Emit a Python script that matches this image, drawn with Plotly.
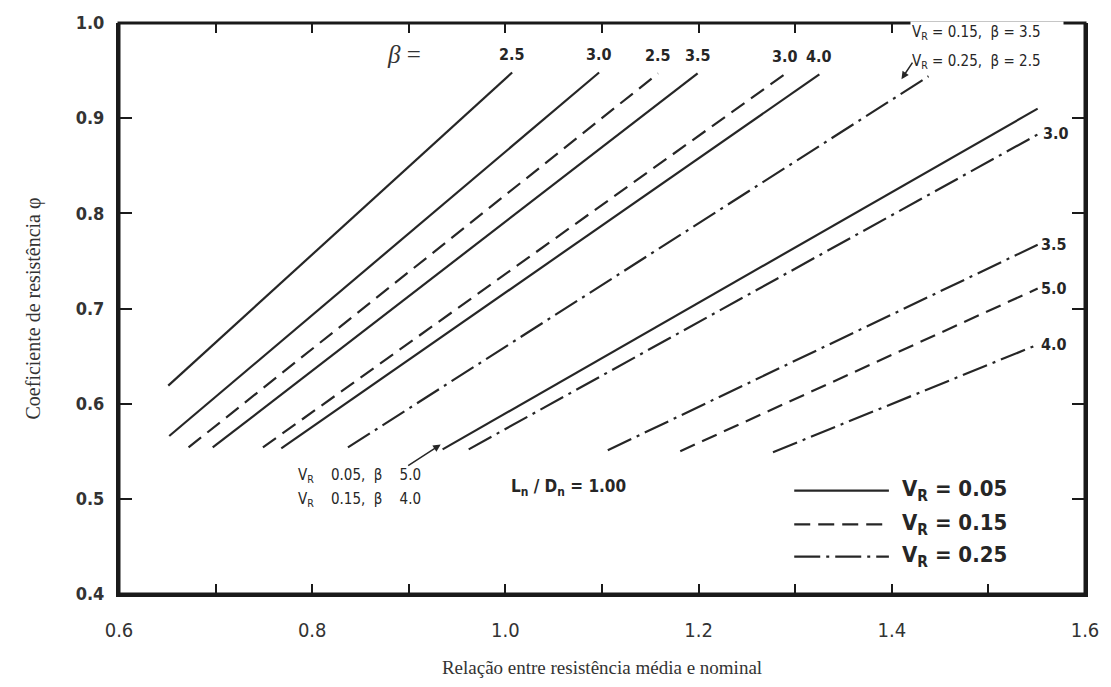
import plotly.graph_objects as go

# ---------------- data ----------------
# V_R = 0.05 (solid)
solid_beta = ["2.5", "3.0", "3.5", "4.0", "5.0"]
solid_x0 = [0.651, 0.652, 0.697, 0.768, 0.935]
solid_y0 = [0.619, 0.566, 0.554, 0.553, 0.552]
solid_x1 = [1.007, 1.097, 1.199, 1.325, 1.551]
solid_y1 = [0.948, 0.948, 0.947, 0.946, 0.910]
solid_lab = ["top", "top", "top", "top", None]

# V_R = 0.15 (dashed)
dashed_beta = ["2.5", "3.0", "5.0"]
dashed_x0 = [0.672, 0.749, 1.181]
dashed_y0 = [0.554, 0.554, 0.550]
dashed_x1 = [1.158, 1.289, 1.551]
dashed_y1 = [0.947, 0.946, 0.721]
dashed_lab = ["top", "top", "right"]

# V_R = 0.25 (dash-dot)
dashdot_beta = ["2.5", "3.0", "3.5", "4.0"]
dashdot_x0 = [0.837, 0.962, 1.106, 1.277]
dashdot_y0 = [0.554, 0.552, 0.551, 0.549]
dashdot_x1 = [1.438, 1.553, 1.551, 1.551]
dashdot_y1 = [0.944, 0.884, 0.767, 0.662]
dashdot_lab = [None, "right", "right", "right"]

x_ticks = [0.6, 0.7, 0.8, 0.9, 1.0, 1.1, 1.2, 1.3, 1.4, 1.5, 1.6]
x_ticktext = ["0.6", "", "0.8", "", "1.0", "", "1.2", "", "1.4", "", "1.6"]
y_ticks = [0.4, 0.5, 0.6, 0.7, 0.8, 0.9, 1.0]
y_ticktext = ["0.4", "0.5", "0.6", "0.7", "0.8", "0.9", "1.0"]

# ---------------- styling ----------------
INK = "#262626"
FRAME = "#1a1a1a"
NARROW = "DejaVu Sans Condensed, Liberation Sans Narrow, Arial Narrow, sans-serif"
SERIF = "Liberation Serif, DejaVu Serif, Times New Roman, serif"

DASH_SOLID = "solid"
DASH_DASHED = "16px,8px"
DASH_DASHDOT = "26px,6px,3px,6px"

fig = go.Figure()
annotations = []


def add_group(name, betas, x0, y0, x1, y1, labs, dash):
    for b, a0, b0, a1, b1, lab in zip(betas, x0, y0, x1, y1, labs):
        fig.add_trace(go.Scatter(
            x=[a0, a1], y=[b0, b1], mode="lines",
            line=dict(color=INK, width=2.2, dash=dash),
            name=f"{name}, β = {b}", showlegend=False, hoverinfo="name",
        ))
        if lab == "top":
            annotations.append(dict(
                x=a1, y=b1, xref="x", yref="y", text=f"<b>{b}</b>", showarrow=False,
                xanchor="center", yanchor="bottom", yshift=6,
                font=dict(family=NARROW, size=16, color=INK)))
        elif lab == "right":
            annotations.append(dict(
                x=a1, y=b1, xref="x", yref="y", text=f"<b>{b}</b>", showarrow=False,
                xanchor="left", yanchor="middle", xshift=1,
                font=dict(family=NARROW, size=16, color=INK)))


add_group("V_R = 0.05", solid_beta, solid_x0, solid_y0, solid_x1, solid_y1, solid_lab, DASH_SOLID)
add_group("V_R = 0.15", dashed_beta, dashed_x0, dashed_y0, dashed_x1, dashed_y1, dashed_lab, DASH_DASHED)
add_group("V_R = 0.25", dashdot_beta, dashdot_x0, dashdot_y0, dashdot_x1, dashdot_y1, dashdot_lab, DASH_DASHDOT)

# invisible trace on the top axis so its ticks are drawn
fig.add_trace(go.Scatter(x=[0.6, 1.6], y=[0.4, 0.4], xaxis="x2", mode="lines",
                         line=dict(width=0), showlegend=False, hoverinfo="skip"))

# beta = header
annotations.append(dict(x=0.275, y=0.945, xref="paper", yref="paper", text="<i>β</i> =",
                        showarrow=False, xanchor="left", yanchor="middle",
                        font=dict(family=SERIF, size=25, color="#333")))

# top-right notes
small = dict(family=NARROW, size=15, color=INK)
annotations.append(dict(x=0.819, y=0.983, xref="paper", yref="paper",
                        text="V<sub>R</sub> = 0.15,  β = 3.5", showarrow=False,
                        xanchor="left", yanchor="middle", font=small, bgcolor="white",
                        width=150, align="left"))
annotations.append(dict(x=0.819, y=0.933, xref="paper", yref="paper",
                        text="V<sub>R</sub> = 0.25,  β = 2.5", showarrow=False,
                        xanchor="left", yanchor="middle", font=small,
                        width=150, align="left"))
annotations.append(dict(x=1.410, y=0.941, xref="x", yref="y", text="", showarrow=True,
                        ax=12, ay=-18, arrowhead=2, arrowsize=1, arrowwidth=1.5,
                        arrowcolor=INK))

# bottom-left notes
annotations.append(dict(x=0.183, y=0.207, xref="paper", yref="paper",
                        text="V<sub>R</sub>    0.05,  β    5.0", showarrow=False,
                        xanchor="left", yanchor="middle", font=small))
annotations.append(dict(x=0.183, y=0.166, xref="paper", yref="paper",
                        text="V<sub>R</sub>    0.15,  β    4.0", showarrow=False,
                        xanchor="left", yanchor="middle", font=small))
annotations.append(dict(x=0.933, y=0.557, xref="x", yref="y", text="", showarrow=True,
                        ax=-34, ay=22, arrowhead=2, arrowsize=1, arrowwidth=1.5,
                        arrowcolor=INK))

# Ln / Dn
annotations.append(dict(x=0.4035, y=0.186, xref="paper", yref="paper",
                        text="<b>L<sub>n</sub> / D<sub>n</sub> = 1.00</b>", showarrow=False,
                        xanchor="left", yanchor="middle",
                        font=dict(family=NARROW, size=17, color=INK)))

# legend (drawn)
leg_y = [0.181, 0.122, 0.0655]
leg_text = ["V<sub>R</sub> = 0.05", "V<sub>R</sub> = 0.15", "V<sub>R</sub> = 0.25"]
leg_dash = [DASH_SOLID, DASH_DASHED, DASH_DASHDOT]
shapes = []
for yy, tt, dd in zip(leg_y, leg_text, leg_dash):
    shapes.append(dict(type="line", xref="paper", yref="paper", x0=0.699, x1=0.797,
                       y0=yy, y1=yy, line=dict(color=INK, width=2.2, dash=dd)))
    annotations.append(dict(x=0.808, y=yy, xref="paper", yref="paper", text=f"<b>{tt}</b>",
                            showarrow=False, xanchor="left", yanchor="middle",
                            font=dict(family=NARROW, size=22, color=INK)))

# full frame (the top note sits on a white box that interrupts it)
shapes.append(dict(type="rect", xref="paper", yref="paper", x0=0, x1=1, y0=0, y1=1,
                   line=dict(color=FRAME, width=3), fillcolor="rgba(0,0,0,0)",
                   layer="below"))

fig.update_layout(
    width=1111, height=687,
    margin=dict(l=119, r=18, t=18, b=89),
    paper_bgcolor="white", plot_bgcolor="rgba(0,0,0,0)",
    showlegend=False,
    annotations=annotations,
    shapes=shapes,
    xaxis=dict(
        range=[0.6, 1.6], tickvals=x_ticks, ticktext=x_ticktext,
        ticks="inside", ticklen=10, tickwidth=2, tickcolor=FRAME,
        showline=True, linewidth=3, linecolor=FRAME, mirror=False,
        showgrid=False, zeroline=False,
        ticklabelstandoff=16,
        tickfont=dict(family=NARROW, size=20, color="#333"),
        title=dict(text="Relação entre resistência média e nominal",
                   font=dict(family=SERIF, size=19, color="#333"), standoff=20),
    ),
    xaxis2=dict(
        overlaying="x", side="top", matches="x", range=[0.6, 1.6],
        tickvals=x_ticks, showticklabels=False,
        ticks="inside", ticklen=10, tickwidth=2, tickcolor=FRAME,
        showline=False, showgrid=False, zeroline=False,
    ),
    yaxis=dict(
        range=[0.4, 1.0], tickvals=y_ticks, ticktext=y_ticktext,
        ticks="inside", ticklen=13, tickwidth=2, tickcolor=FRAME,
        showline=True, linewidth=3, linecolor=FRAME, mirror="ticks",
        showgrid=False, zeroline=False,
        ticklabelstandoff=8,
        tickfont=dict(family=NARROW, size=18, color="#333", weight="bold"),
        title=dict(text="Coeficiente de resistência φ",
                   font=dict(family=SERIF, size=20, color="#333"), standoff=30),
    ),
)

fig.write_html("out.html")
